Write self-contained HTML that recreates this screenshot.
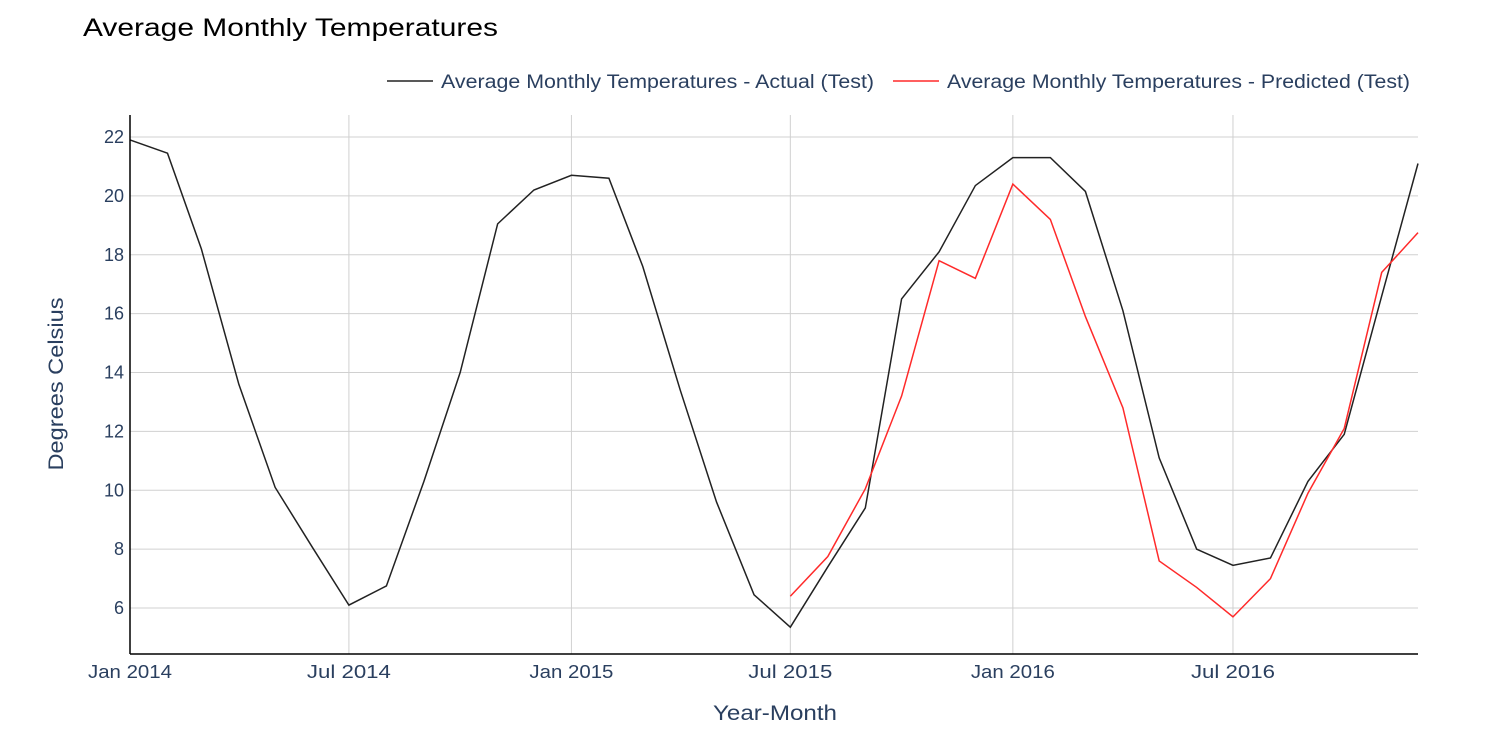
<!DOCTYPE html>
<html><head><meta charset="utf-8"><style>
body{margin:0;background:#fff;font-family:"Liberation Sans",sans-serif}
svg text{font-family:"Liberation Sans",sans-serif}
</style></head><body>
<svg id="chart" width="1497" height="731" xmlns="http://www.w3.org/2000/svg">
<rect width="1497" height="731" fill="#fff"/>
<text x="83" y="36" font-size="25" fill="#000" textLength="415" lengthAdjust="spacingAndGlyphs">Average Monthly Temperatures</text>
<g id="grid"></g>
<g id="series"></g>
<line x1="130" y1="115" x2="130" y2="654" stroke="#000" stroke-width="1.5"/>
<line x1="130" y1="654" x2="1418" y2="654" stroke="#000" stroke-width="1.5"/>
<g id="ticks"></g>
<text transform="translate(63,384) rotate(-90)" text-anchor="middle" font-size="21" fill="#2a3f5f" textLength="173" lengthAdjust="spacingAndGlyphs">Degrees Celsius</text>
<text x="775" y="720" text-anchor="middle" font-size="21" fill="#2a3f5f" textLength="124" lengthAdjust="spacingAndGlyphs">Year-Month</text>
<g>
<g>
<line x1="387" y1="81" x2="433" y2="81" stroke="#222" stroke-width="1.5"/>
<text x="441" y="88" font-size="19" fill="#2a3f5f" textLength="433" lengthAdjust="spacingAndGlyphs">Average Monthly Temperatures - Actual (Test)</text></g>
<g>
<line x1="893" y1="81" x2="939" y2="81" stroke="#ff2a2a" stroke-width="1.5"/>
<text x="947" y="88" font-size="19" fill="#2a3f5f" textLength="463" lengthAdjust="spacingAndGlyphs">Average Monthly Temperatures - Predicted (Test)</text></g>
</g>
</svg>
<script>
const actualValues=[21.9,21.45,18.2,13.6,10.1,8.05,6.1,6.75,10.3,14.0,19.05,20.2,20.7,20.6,17.6,13.4,9.6,6.45,5.35,7.4,9.4,16.5,18.1,20.35,21.3,21.3,20.15,16.1,11.1,8.0,7.45,7.7,10.3,11.9,16.6,21.1];
const predictedValues=[6.4,7.75,10.05,13.2,17.8,17.2,20.4,19.2,15.9,12.8,7.6,6.7,5.7,7.0,9.9,12.1,17.4,18.75];
const predictedStartIndex=18;
const yTicks=[6,8,10,12,14,16,18,20,22];
const xTickLabels=["Jan 2014","Jul 2014","Jan 2015","Jul 2015","Jan 2016","Jul 2016"];
const xTickMonths=[0,6,12,18,24,30];
const NS="http://www.w3.org/2000/svg";
const t0=Date.UTC(2014,0,1), t1=Date.UTC(2016,11,1);
function monthDate(i){return Date.UTC(2014+Math.floor(i/12),i%12,1);}
function xs(i){return 130+(monthDate(i)-t0)/(t1-t0)*(1418-130);}
function ys(v){return 137+(22-v)*29.44;}
function mk(tag,attrs,parent){const e=document.createElementNS(NS,tag);for(const k in attrs)e.setAttribute(k,attrs[k]);parent.appendChild(e);return e;}
const grid=document.getElementById('grid'),ticks=document.getElementById('ticks'),series=document.getElementById('series');
yTicks.forEach(v=>{
 const l=mk('line',{x1:130,x2:1418,y1:ys(v),y2:ys(v),stroke:'#d0d0d0','stroke-width':1},grid);
 
 
 const t=mk('text',{x:124,y:ys(v)+6,'text-anchor':'end','font-size':18,fill:'#2a3f5f'},ticks);
 t.textContent=v;
 
 
});
xTickMonths.forEach((m,i)=>{
 const x=xs(m);
 const l=mk('line',{x1:x,x2:x,y1:115,y2:654,stroke:'#d0d0d0','stroke-width':1},grid);
 
 
 const t=mk('text',{x:x,y:678,'text-anchor':'middle','font-size':18,fill:'#2a3f5f',textLength:84,lengthAdjust:'spacingAndGlyphs'},ticks);
 t.textContent=xTickLabels[i];
 
 
});
const pa=mk('polyline',{points:actualValues.map((v,i)=>xs(i)+','+ys(v)).join(' '),fill:'none',stroke:'#222','stroke-width':1.5},series);


const pp=mk('polyline',{points:predictedValues.map((v,i)=>xs(i+predictedStartIndex)+','+ys(v)).join(' '),fill:'none',stroke:'#ff2a2a','stroke-width':1.5},series);


</script>
</body></html>
